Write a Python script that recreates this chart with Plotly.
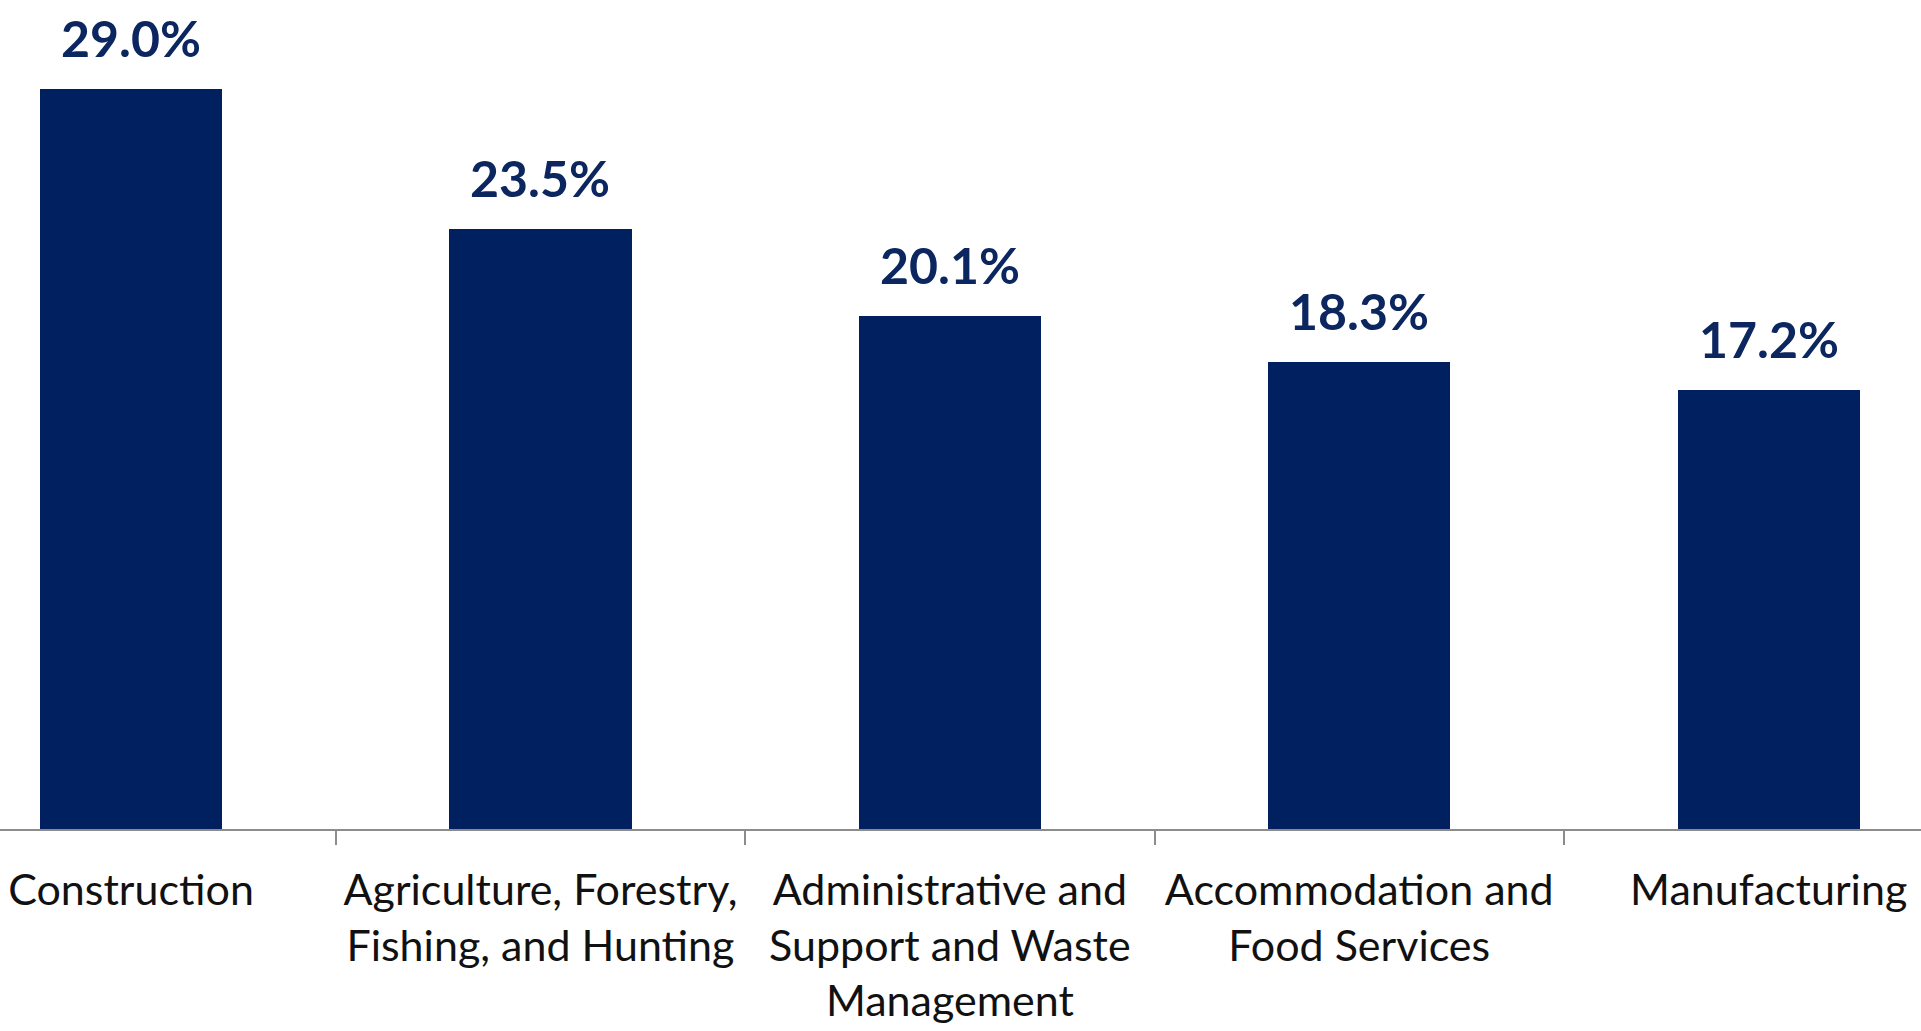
import plotly.graph_objects as go

categories = [
    "Construction",
    "Agriculture, Forestry,<br>Fishing, and Hunting",
    "Administrative and<br>Support and Waste<br>Management",
    "Accommodation and<br>Food Services",
    "Manufacturing",
]
values = [29.0, 23.5, 20.1, 18.3, 17.2]
value_labels = ["29.0%", "23.5%", "20.1%", "18.3%", "17.2%"]

NAVY = "#002060"

fig = go.Figure()
fig.add_trace(go.Bar(
    x=categories,
    y=values,
    marker=dict(color=NAVY, line=dict(width=0)),
    width=0.445,
    hoverinfo="skip",
))

for cat, v, lab in zip(categories, values, value_labels):
    fig.add_annotation(
        x=cat, y=v, text=lab, showarrow=False,
        xanchor="center", yanchor="bottom", yshift=19,
        font=dict(family="Lato", size=50, color="#0c2660", weight="bold"),
    )

fig.update_layout(
    width=1921, height=1031,
    margin=dict(l=0, r=0, t=0, b=202, pad=0),
    paper_bgcolor="white", plot_bgcolor="white",
    showlegend=False,
    bargap=0,
)
fig.update_xaxes(
    type="category",
    range=[-0.32, 4.372],
    tickson="boundaries",
    ticks="outside", ticklen=14, tickwidth=1.5, tickcolor="#8c8c8c",
    showline=True, linecolor="#8c8c8c", linewidth=2,
    showgrid=False, zeroline=False,
    tickfont=dict(family="Lato", size=43, color="#111111"),
    ticklabelstandoff=22,
    automargin=False,
)
fig.update_yaxes(
    range=[0, 32.48],
    visible=False, showgrid=False, zeroline=False,
    automargin=False,
)

fig.write_html(
    "out.html",
    config={"displayModeBar": False},
    post_script="document.body.style.margin='0';document.body.style.overflow='hidden';",
)
